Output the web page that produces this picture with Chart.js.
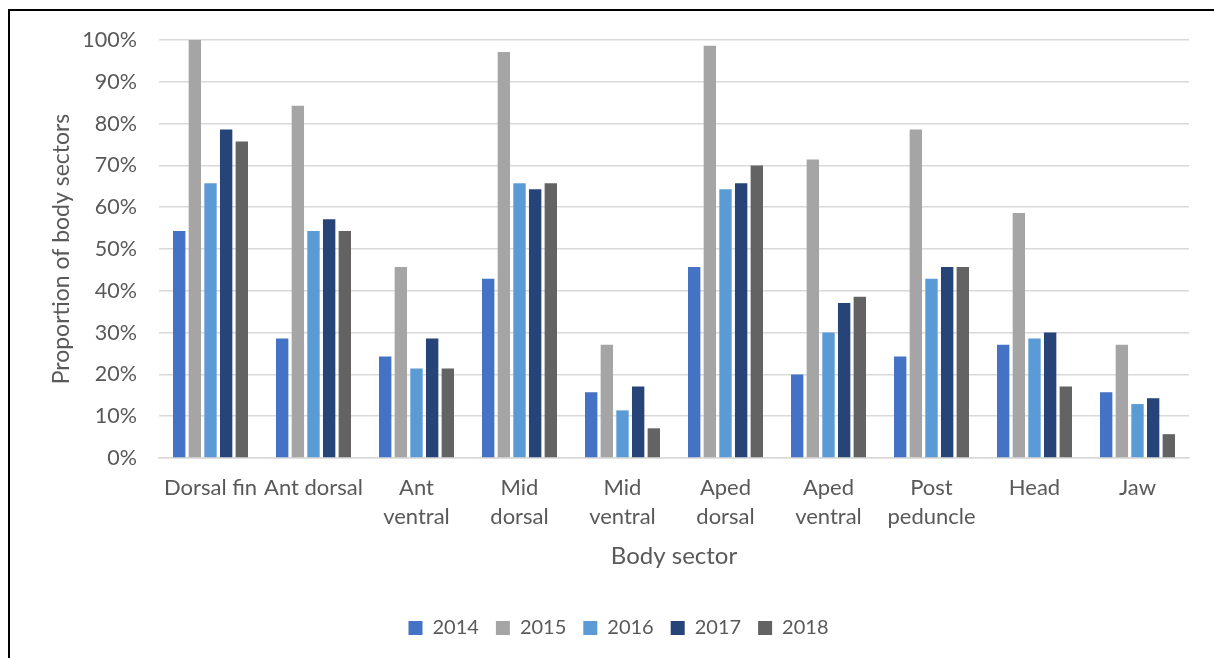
<!DOCTYPE html>
<html>
<head>
<meta charset="utf-8">
<script src="https://cdn.jsdelivr.net/npm/chart.js@4"></script>
<style>
    html, body { margin:0; padding:0; background:#fff; overflow:hidden; }
    #frame { position:absolute; left:8px; top:9px; width:1400px; height:800px; border:2px solid #000; }
    #wrap { position:absolute; left:0; top:0; width:1214px; height:658px; }
</style>
</head>
<body>
<div id="frame"></div>
<div id="wrap"><canvas id="chart"></canvas></div>
<script>
const sectors = ["Dorsal fin","Ant dorsal",["Ant","ventral"],["Mid","dorsal"],["Mid","ventral"],["Aped","dorsal"],["Aped","ventral"],["Post","peduncle"],"Head","Jaw"];
const years = ["2014","2015","2016","2017","2018"];
const y2014 = [54.3, 28.6, 24.3, 42.9, 15.7, 45.7, 20.0, 24.3, 27.1, 15.7];
const y2015 = [100, 84.3, 45.7, 97.1, 27.1, 98.6, 71.4, 78.6, 58.6, 27.1];
const y2016 = [65.7, 54.3, 21.4, 65.7, 11.4, 64.3, 30.0, 42.9, 28.6, 12.9];
const y2017 = [78.6, 57.1, 28.6, 64.3, 17.1, 65.7, 37.1, 45.7, 30.0, 14.3];
const y2018 = [75.7, 54.3, 21.4, 65.7, 7.1, 70.0, 38.6, 45.7, 17.1, 5.7];
const colors = ["#4472C4","#A5A5A5","#5B9BD5","#264478","#636363"];

const font = "Lato";
const textColor = "#595959";
const series = [y2014, y2015, y2016, y2017, y2018];

new Chart(document.getElementById("chart"), {
    type: "bar",
    data: {
        labels: sectors,
        datasets: years.map((y,i)=>({
            label: y,
            data: series[i],
            backgroundColor: colors[i],
            borderWidth: 0,
            barPercentage: 0.79,
            categoryPercentage: 0.76
        }))
    },
    options: {
        responsive: true,
        maintainAspectRatio: false,
        animation: false,
        // extra left padding keeps the legend centred like the original
        layout: { padding: { top: 40, right: 25, bottom: 10, left: 48 } },
        plugins: {
            legend: {
                position: "bottom",
                labels: { boxWidth: 14, boxHeight: 14, padding: 17, color: textColor, font: { family: font, size: 20 } }
            },
            tooltip: { enabled: false }
        },
        scales: {
            x: {
                grid: { display: false },
                border: { color: "#d9d9d9", width: 1.5 },
                ticks: { color: textColor, font: { family: font, size: 22, lineHeight: 1.32 }, maxRotation: 0, autoSkip: false, padding: 7 },
                title: { display: true, text: "Body sector", color: textColor, font: { family: font, size: 24 }, padding: { top: 4, bottom: 30 } },
                afterFit: s => { s.height = 143; }
            },
            y: {
                min: 0, max: 100,
                border: { display: false },
                grid: {
                    drawTicks: false,
                    color: c => c.tick.value % 10 === 0 ? "#d9d9d9" : "#f2f2f2",
                    lineWidth: 1.5
                },
                ticks: {
                    stepSize: 5,
                    padding: 22,
                    color: textColor,
                    font: { family: font, size: 21.5 },
                    callback: v => v % 10 === 0 ? v + "%" : ""
                },
                title: { display: true, text: "Proportion of body sectors", color: textColor, font: { family: font, size: 23 }, padding: { top: 0, bottom: 0 } },
                afterFit: s => { s.width = 111; }
            }
        }
    }
});
</script>
</body>
</html>
